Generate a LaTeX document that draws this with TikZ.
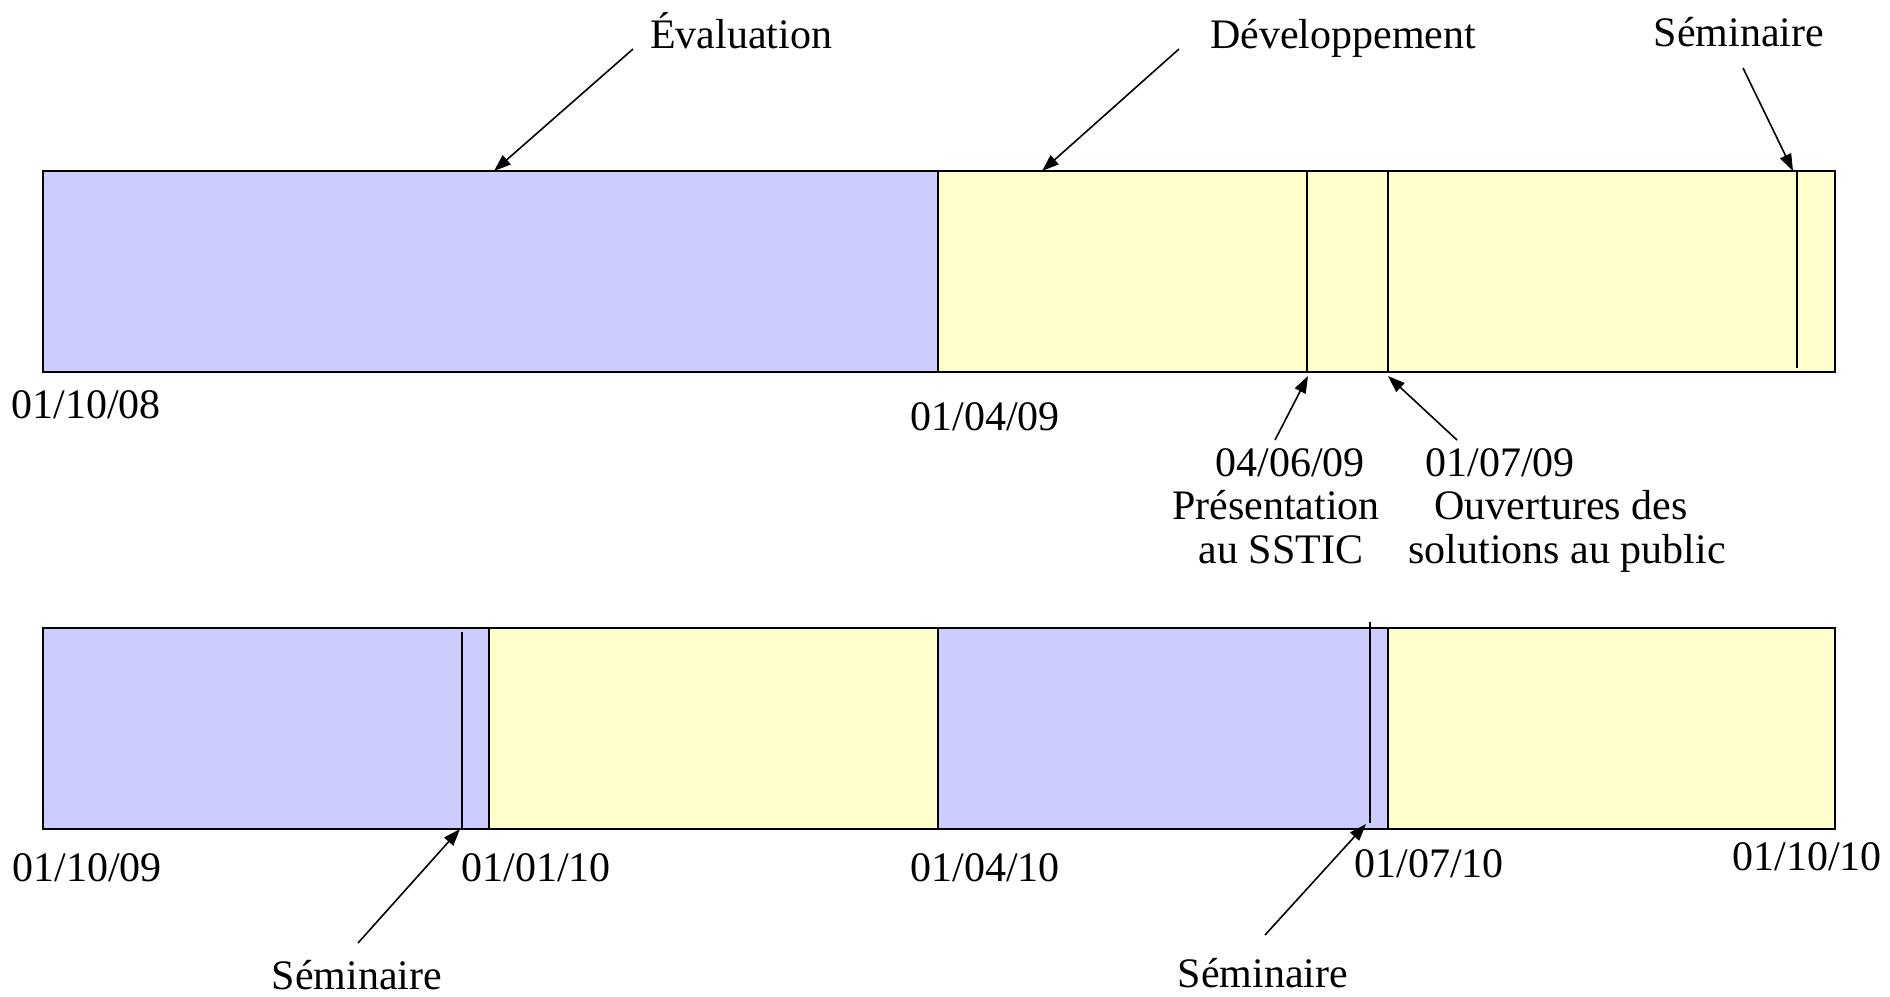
\documentclass[tikz,border=0pt]{standalone}
\usepackage{fontspec}
\setmainfont{Liberation Serif}
\usetikzlibrary{arrows.meta}
\definecolor{evalblue}{HTML}{CCCCFF}
\definecolor{devyellow}{HTML}{FFFFCC}
\begin{document}
\begin{tikzpicture}[x=1pt,y=-1pt,
  lbl/.style={anchor=base,inner sep=0pt,font=\fontsize{42}{50}\selectfont},
  divider/.style={draw=black,line width=1.4pt},
  evline/.style={draw=black,line width=1.2pt},
  barframe/.style={draw=black,line width=2.2pt},
  arr/.style={draw=black,line width=1.6pt,-{Triangle[length=17pt,width=12pt]}}]
\useasboundingbox (0,0) rectangle (1890,996);
\fill[white] (0,0) rectangle (1890,996);

% ---------- top bar ----------
\fill[evalblue] (43,171) rectangle (938,372);
\fill[devyellow] (938,171) rectangle (1835,372);
\draw[divider] (938,171) -- (938,372);
\draw[evline] (1307,171) -- (1307,372);
\draw[evline] (1388,171) -- (1388,372);
\draw[evline] (1797,171) -- (1797,368);
\draw[barframe] (43,171) rectangle (1835,372);

% ---------- bottom bar ----------
\fill[evalblue] (43,628) rectangle (489,829);
\fill[devyellow] (489,628) rectangle (938,829);
\fill[evalblue] (938,628) rectangle (1388,829);
\fill[devyellow] (1388,628) rectangle (1835,829);
\draw[divider] (489,628) -- (489,829);
\draw[divider] (938,628) -- (938,829);
\draw[divider] (1388,628) -- (1388,829);
\draw[evline] (462,632) -- (462,829);
\draw[evline] (1370,622) -- (1370,823);
\draw[barframe] (43,628) rectangle (1835,829);

% ---------- labels ----------
\node[lbl] (eval) at (741,48) {Évaluation};
\node[lbl] (dev) at (1343,48) {Développement};
\node[lbl] (semA) at (1739,46) {Séminaire};
\node[lbl] (d1) at (86,418) {01/10/08};
\node[lbl] (d2) at (985,430) {01/04/09};
\node[lbl] (d3) at (1290,476) {04/06/09};
\node[lbl] (p1) at (1276,519) {Présentation};
\node[lbl] (p2) at (1281,563) {au SSTIC};
\node[lbl] (d4) at (1500,476) {01/07/09};
\node[lbl] (o1) at (1561,519) {Ouvertures des};
\node[lbl] (o2) at (1567,563) {solutions au public};
\node[lbl] (d5) at (87,881) {01/10/09};
\node[lbl] (d6) at (536,881) {01/01/10};
\node[lbl] (d7) at (985,881) {01/04/10};
\node[lbl] (d8) at (1429,877) {01/07/10};
\node[lbl] (d9) at (1807,870) {01/10/10};
\node[lbl] (semB) at (357,989) {Séminaire};
\node[lbl] (semC) at (1263,987) {Séminaire};

% ---------- arrow endpoints ----------
\coordinate (evalS) at (633,49);
\coordinate (evalE) at (494,171);
\coordinate (devS) at (1179,49);
\coordinate (devE) at (1042,171);
\coordinate (semAS) at (1743,68);
\coordinate (semAE) at (1793,171);
\coordinate (d3S) at (1275,440);
\coordinate (d3E) at (1308,376);
\coordinate (d4S) at (1457,440);
\coordinate (d4E) at (1388,376);
\coordinate (semBS) at (358,943);
\coordinate (semBE) at (460,829);
\coordinate (semCS) at (1265,935);
\coordinate (semCE) at (1366,824);

\draw[arr] (evalS) -- (evalE);
\draw[arr] (devS) -- (devE);
\draw[arr] (semAS) -- (semAE);
\draw[arr] (d3S) -- (d3E);
\draw[arr] (d4S) -- (d4E);
\draw[arr] (semBS) -- (semBE);
\draw[arr] (semCS) -- (semCE);
\end{tikzpicture}
\end{document}
